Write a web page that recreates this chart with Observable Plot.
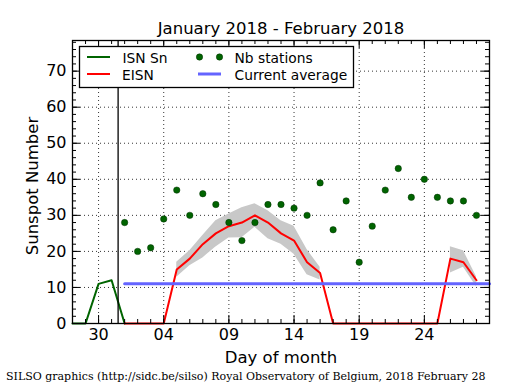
<!DOCTYPE html>
<html><head><meta charset="utf-8">
<script src="https://cdn.jsdelivr.net/npm/d3@7"></script>
<script src="https://cdn.jsdelivr.net/npm/@observablehq/plot@0.6"></script>
<style>
body{margin:0;background:#fff;}
#wrap{position:relative;width:515px;height:390px;font-family:"DejaVu Sans",sans-serif;}
#legend{position:absolute;left:0;top:0;pointer-events:none;}
</style></head><body><div id="wrap"></div>
<script>
// ---- data ----
const titleText = "January 2018 - February 2018";
const yLabel = "Sunspot Number";
const xLabel = "Day of month";
const captionText = "SILSO graphics (http://sidc.be/silso) Royal Observatory of Belgium, 2018 February 28";

const isnDays = ["2018-01-28","2018-01-29","2018-01-30","2018-01-31","2018-02-01"];
const isnValues = [0, 0, 11, 12, 0];

const febDays = ["2018-02-01","2018-02-02","2018-02-03","2018-02-04","2018-02-05","2018-02-06","2018-02-07",
  "2018-02-08","2018-02-09","2018-02-10","2018-02-11","2018-02-12","2018-02-13","2018-02-14",
  "2018-02-15","2018-02-16","2018-02-17","2018-02-18","2018-02-19","2018-02-20","2018-02-21",
  "2018-02-22","2018-02-23","2018-02-24","2018-02-25","2018-02-26","2018-02-27","2018-02-28"];
const eisnValues = [0,0,0,0,15,18,22,25,27,28,30,28,25,23,17,14,0,0,0,0,0,0,0,0,0,18,17,12];
const stationCounts = [28,20,21,29,37,30,36,33,28,23,28,33,33,32,30,39,26,34,17,27,37,43,35,40,35,34,34,30];

const bandDays = ["2018-02-05","2018-02-06","2018-02-07","2018-02-08","2018-02-09","2018-02-10","2018-02-11",
  "2018-02-12","2018-02-13","2018-02-14","2018-02-15","2018-02-16","2018-02-26","2018-02-27","2018-02-28"];
const bandSegment = [1,1,1,1,1,1,1,1,1,1,1,1,2,2,2];
const bandLow  = [12.8,16,18.2,21.2,23.7,23.8,26.7,23.5,22,19.2,13.5,12.1,14,15.6,10.2];
const bandHigh = [17,20.2,24.4,28.5,30.4,32.1,33.2,31.3,28.5,27,20.5,15.6,21.3,20.2,13];

const averageDays = ["2018-02-01","2018-03-01"];
const averageValue = 11;

const monthBoundary = "2018-01-31T12:00:00Z";
const xDomain = ["2018-01-28","2018-03-01"];
const yDomain = [0, 78.5];
const yMajorTicks = [0,10,20,30,40,50,60,70];
const xMajorTicks = ["2018-01-30","2018-02-04","2018-02-09","2018-02-14","2018-02-19","2018-02-24"];

const legendItems = ["ISN Sn","EISN","Nb stations","Current average"];

// ---- build ----
const P = d => new Date(d.length === 10 ? d + "T00:00:00Z" : d);
const isn = isnDays.map((d,i)=>({date:P(d), v:isnValues[i]}));
const eisn = febDays.map((d,i)=>({date:P(d), v:eisnValues[i]}));
const stations = febDays.map((d,i)=>({date:P(d), v:stationCounts[i]}));
const band = bandDays.map((d,i)=>({date:P(d), lo:bandLow[i], hi:bandHigh[i], seg:bandSegment[i]}));
const avg = averageDays.map(d=>({date:P(d), v:averageValue}));
const xMajor = xMajorTicks.map(P);
const xMinor = d3.utcDay.range(P(xDomain[0]), d3.utcDay.offset(P(xDomain[1]),1));
const yMinor = d3.range(0, 79, 2);

const W=515,H=390,mt=40,ml=72,mr=26,mb=67;
const fw=W-ml-mr, fh=H-mt-mb;

const chart = Plot.plot({
  width:W, height:H, marginTop:mt, marginLeft:ml, marginRight:mr, marginBottom:mb,
  style:{fontFamily:"DejaVu Sans", fontSize:"16px", color:"#000", background:"#fff", overflow:"visible"},
  x:{type:"utc", domain:xDomain.map(P)},
  y:{domain:yDomain},
  marks:[
    Plot.ruleY(yMajorTicks.slice(1), {stroke:"#000", strokeWidth:0.8, strokeDasharray:"1,3"}),
    Plot.ruleX(xMajor, {stroke:"#000", strokeWidth:0.8, strokeDasharray:"1,3"}),
    Plot.areaY(band, {x:"date", y1:"lo", y2:"hi", z:"seg", fill:"#c8c8c8", curve:"linear"}),
    Plot.line(isn, {x:"date", y:"v", stroke:"#006400", strokeWidth:2}),
    Plot.line(eisn, {x:"date", y:"v", stroke:"#ff0000", strokeWidth:2}),
    Plot.line(avg, {x:"date", y:"v", stroke:"#6464ff", strokeWidth:3}),
    Plot.dot(stations, {x:"date", y:"v", r:3.2, fill:"#006400", stroke:"#003000", strokeWidth:0.5}),
    Plot.ruleX([P(monthBoundary)], {stroke:"#000", strokeWidth:1.3}),
    // inward ticks
    Plot.tickY(yMinor, {y:d=>d, insetRight:fw-4, stroke:"#000"}),
    Plot.tickY(yMinor, {y:d=>d, insetLeft:fw-4, stroke:"#000"}),
    Plot.tickY(yMajorTicks, {y:d=>d, insetRight:fw-8, stroke:"#000"}),
    Plot.tickY(yMajorTicks, {y:d=>d, insetLeft:fw-8, stroke:"#000"}),
    Plot.tickX(xMinor, {x:d=>d, insetTop:fh-4, stroke:"#000"}),
    Plot.tickX(xMinor, {x:d=>d, insetBottom:fh-4, stroke:"#000"}),
    Plot.tickX(xMajor, {x:d=>d, insetTop:fh-8, stroke:"#000"}),
    Plot.tickX(xMajor, {x:d=>d, insetBottom:fh-8, stroke:"#000"}),
    Plot.frame({stroke:"#000", strokeWidth:1.3}),
    Plot.axisX({ticks:xMajor, tickSize:0, tickPadding:5, tickFormat:d3.utcFormat("%d"), fontSize:16, label:null}),
    Plot.axisY({ticks:yMajorTicks, tickSize:0, tickPadding:6, fontSize:16, label:null}),
    Plot.text([titleText], {text:d=>d, frameAnchor:"top", textAnchor:"middle", lineAnchor:"middle", dy:-12, fontSize:16.5}),
    Plot.text([xLabel], {text:d=>d, frameAnchor:"bottom", textAnchor:"middle", lineAnchor:"middle", dy:34, fontSize:16.5}),
    Plot.text([yLabel], {text:d=>d, frameAnchor:"left", textAnchor:"middle", lineAnchor:"middle", rotate:-90, dx:-40, dy:4, fontSize:16.5}),
    Plot.text([captionText], {text:d=>d, frameAnchor:"bottom-left", textAnchor:"start", lineAnchor:"middle", dx:-66.5, dy:52.5, fontSize:11, fontFamily:"DejaVu Serif"})
  ]
});
const wrap = document.getElementById("wrap");
wrap.appendChild(chart);

// legend overlay
const lg = d3.select(wrap).append("svg").attr("id","legend").attr("width",W).attr("height",H)
  .style("font-family","DejaVu Sans").style("font-size","13.8px");
lg.append("rect").attr("x",79.5).attr("y",46.5).attr("width",274).attr("height",41).attr("fill","#fff").attr("stroke","#000").attr("stroke-width",1.3);
lg.append("line").attr("x1",87).attr("x2",110).attr("y1",57).attr("y2",57).attr("stroke","#006400").attr("stroke-width",2);
lg.append("line").attr("x1",87).attr("x2",110).attr("y1",74).attr("y2",74).attr("stroke","#ff0000").attr("stroke-width",2);
lg.append("circle").attr("cx",199.5).attr("cy",57).attr("r",3.2).attr("fill","#006400").attr("stroke","#003000").attr("stroke-width",0.5);
lg.append("circle").attr("cx",219.5).attr("cy",57).attr("r",3.2).attr("fill","#006400").attr("stroke","#003000").attr("stroke-width",0.5);
lg.append("line").attr("x1",198).attr("x2",221).attr("y1",74).attr("y2",74).attr("stroke","#6464ff").attr("stroke-width",3);
const lpos = [[122.5,63],[122,79.5],[234.5,63],[234.5,79.5]];
legendItems.forEach((t,i)=>lg.append("text").attr("x",lpos[i][0]).attr("y",lpos[i][1]).text(t));
</script></body></html>
